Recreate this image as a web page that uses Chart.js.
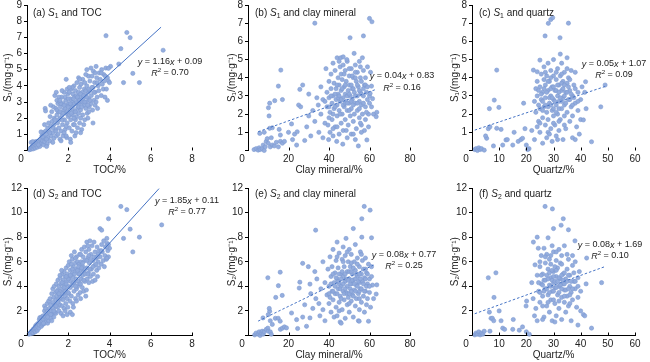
<!DOCTYPE html>
<html>
<head>
<meta charset="utf-8">
<script src="https://cdn.jsdelivr.net/npm/chart.js@4.4.1/dist/chart.umd.min.js"></script>
<style>
  body { margin: 0; background: #fff; }
  #figure { position: relative; width: 650px; height: 362px; overflow: hidden; }
  #figure canvas { position: absolute; }
</style>
</head>
<body>
<div id="figure"></div>
<script>
// Sample points, [x, y]
const s1TocPoints = [
  [0.12,0.05],[0.15,0.12],[0.2,0.08],[0.22,0.2],[0.25,0.15],[0.3,0.1],[0.3,0.3],[0.35,0.22],[0.38,0.4],[0.4,0.15],[0.42,0.55],[0.45,0.3],[0.5,0.45],[0.5,0.2],[0.55,0.6],[0.58,0.35],[0.6,0.5],[0.62,0.25],[0.2,0.5],[0.28,0.55],
  [0.65,0.7],[0.7,0.45],[0.72,0.9],[0.75,0.6],[0.78,1.1],[0.8,0.35],[0.82,0.8],[0.85,0.55],[0.88,2.6],[0.9,2.45],[0.9,1.2],[0.92,0.7],[0.95,1.0],[0.98,0.4],[1.0,1.4],[0.68,1.15],[0.85,1.6],[0.95,0.25],
  [1.02,0.8],[1.05,1.7],[1.08,1.2],[1.1,0.6],[1.12,2.1],[1.15,1.5],[1.18,0.9],[1.2,2.4],[1.22,1.8],[1.25,1.1],[1.28,2.7],[1.3,0.75],[1.3,1.6],[1.32,2.0],[1.35,3.4],[1.38,1.3],[1.4,2.6],[1.42,3.6],[1.42,0.9],[1.45,2.2],[1.48,1.7],[1.5,2.9],[1.5,1.0],[1.15,2.8],[1.25,0.5],[1.45,3.1],
  [1.52,2.4],[1.55,1.4],[1.58,3.0],[1.6,0.7],[1.6,2.0],[1.62,2.7],[1.65,1.2],[1.68,3.3],[1.7,2.2],[1.72,1.6],[1.75,2.9],[1.75,0.9],[1.78,2.5],[1.8,3.6],[1.82,1.9],[1.85,2.6],[1.85,1.3],[1.88,3.1],[1.9,4.4],[1.9,2.3],[1.92,0.8],[1.95,2.8],[1.95,1.7],[1.98,3.5],[2.0,2.1],[1.55,3.3],[1.7,3.7],[1.65,0.6],[1.8,1.1],[1.95,3.8],
  [2.02,2.9],[2.05,1.4],[2.05,3.6],[2.08,2.5],[2.1,0.7],[2.1,3.2],[2.12,1.9],[2.15,2.7],[2.15,3.8],[2.18,1.2],[2.2,3.0],[2.2,2.2],[2.22,3.5],[2.25,1.6],[2.25,2.8],[2.28,4.0],[2.3,2.4],[2.3,3.3],[2.32,0.9],[2.35,3.7],[2.35,1.9],[2.38,2.9],[2.4,3.4],[2.4,2.1],[2.42,4.2],[2.45,2.6],[2.45,1.4],[2.48,3.1],[2.5,4.5],[2.5,3.6],[2.5,2.3],[2.12,0.5],[2.2,3.9],[2.38,1.1],[2.28,2.0],
  [2.52,2.9],[2.55,3.9],[2.55,1.7],[2.58,3.3],[2.6,2.5],[2.62,4.1],[2.62,3.0],[2.65,1.3],[2.68,3.6],[2.7,2.2],[2.7,4.4],[2.72,3.2],[2.75,2.8],[2.78,3.8],[2.8,1.9],[2.8,4.2],[2.82,3.4],[2.85,2.6],[2.88,3.0],[2.9,5.0],[2.9,4.0],[2.92,2.3],[2.95,3.6],[2.98,4.6],[3.0,3.2],[2.6,1.1],[2.75,1.6],[2.85,4.7],[2.95,2.0],
  [3.02,2.7],[3.05,4.3],[3.05,3.7],[3.1,5.1],[3.1,2.9],[3.12,3.4],[3.15,4.6],[3.18,2.5],[3.2,3.9],[3.22,4.9],[3.25,3.1],[3.28,4.2],[3.3,2.8],[3.3,3.6],[3.35,5.2],[3.38,4.5],[3.4,3.3],[3.42,2.6],[3.45,4.0],[3.48,3.7],[3.5,4.8],[3.2,1.7],[3.35,3.0],
  [3.55,4.4],[3.6,3.4],[3.62,5.0],[3.65,4.1],[3.7,3.8],[3.72,4.7],[3.75,4.3],[3.78,3.3],[3.8,4.6],[3.82,5.1],[3.85,3.8],[3.9,4.5],[3.95,4.3],[4.0,4.2],[4.05,5.2],[3.9,3.1],
  [1.35,1.9],[1.45,2.5],[1.55,1.9],[1.6,2.4],[1.65,2.9],[1.7,1.9],[1.75,2.3],[1.8,2.8],[1.85,3.3],[1.9,1.5],[1.95,2.4],[2.0,2.7],[2.0,3.2],[2.05,2.2],[2.1,2.9],[2.15,2.3],[2.2,2.6],[2.25,3.2],[2.3,2.9],[2.35,2.4],
  [2.4,3.0],[2.45,3.3],[2.5,2.7],[2.55,3.1],[2.6,3.5],[2.65,2.7],[2.7,3.0],[2.75,3.4],[2.8,3.0],[2.85,3.7],[2.9,3.3],[2.95,2.8],[3.0,3.8],[3.05,3.1],[3.15,3.9],[3.25,3.6],[3.4,4.2],[1.25,1.4],[1.1,1.1],[0.95,0.7],
  [0.75,0.85],[0.55,0.35],[1.4,1.2],[2.6,2.0],[2.3,1.6],[3.0,2.4],[1.9,0.9],[3.6,4.8],[3.3,4.8],[2.55,4.4],[2.05,3.9],[1.6,3.1],
  [3.83,7.1],[4.84,7.3],[5.0,6.98],[4.55,6.3],[6.6,6.2],[4.45,5.35],[5.13,4.77],[4.68,4.2],[5.45,4.2],[3.95,5.08]
];

const s1ClayPoints = [
  [3,0.05],[4,0.1],[5,0.02],[5.5,0.15],[6,0.05],[7,0.1],[7.5,0.3],[8,0.0],[8.5,0.2],[9,0.5],[5.8,0.94],[10,0.4],[11,0.2],[11.5,0.7],[12,0.3],[13,0.25],[14,0.45],[15,0.2],[16,0.5],[17,0.4],[18,0.5],
  [10.1,2.35],[10.7,2.6],[10.4,1.9],[10.7,1.22],[12,1.25],[13.2,2.74],[15,3.54],[16.2,4.42],[17,2.8],[15.4,1.16],[16,0.85],[8,1.0],[9.5,0.65],[20,1.0],[21.5,1.46],[22,0.6],[23,0.9],[24.3,1.03],[24,0.3],
  [25,2.5],[25.6,3.36],[27,3.6],[26,2.4],[28,0.55],[29,1.3],[30,1.9],[30,3.1],[31,0.8],[32,2.2],[33,7.0],[33,1.6],[34,2.9],[34.7,2.5],[35,1.0],[36,3.5],[36,2.0],[37,0.7],[37,2.8],[38,1.5],
  [38.5,4.5],[39,3.2],[39,2.4],[39.5,1.4],[40,3.8],[40,2.9],[40.5,2.1],[40.5,1.0],[41,4.2],[41,3.4],[41.5,2.6],[41.5,1.7],[42,4.8],[42,3.0],[42,0.8],[38,2.7],[39.8,0.6],
  [42.5,2.3],[42.5,3.7],[43,1.3],[43,4.4],[43.5,2.8],[43.5,3.4],[44,1.9],[44,5.1],[44,2.5],[44.5,4.0],[44.5,3.1],[45,0.9],[45,2.2],[45,3.6],[45.5,4.6],[45.5,2.7],[46,1.5],[46,3.3],[46,4.2],[43.8,0.5],[45.8,5.1],
  [46.5,2.0],[46.5,3.9],[47,2.9],[47,5.15],[47,1.1],[47.5,3.5],[47.5,2.4],[48,4.4],[48,1.7],[48,3.1],[48.5,2.7],[48.5,3.8],[49,0.7],[49,2.2],[49,4.9],[49.5,3.3],[49.5,1.4],[50,2.6],[50,4.1],[50,3.6],[46.8,0.35],[48.8,5.0],
  [50.4,6.2],[50.5,1.9],[50.5,3.0],[51,4.5],[51,2.3],[51,0.9],[51.5,3.4],[51.5,2.8],[52,4.0],[52,1.6],[52.4,5.34],[52.5,3.2],[52.5,2.0],[53,4.7],[53,2.6],[53,0.6],[53.5,3.8],[53.5,1.2],[54,3.0],[54,4.3],[54.5,0.25],[54,2.2],
  [54.5,3.5],[55,1.8],[55,4.9],[55,2.7],[55.5,4.0],[55.5,3.2],[56,1.4],[56,2.5],[56,3.8],[56.5,5.1],[56.5,2.0],[57,6.3],[57,3.0],[57,4.4],[57.5,1.1],[57.5,3.6],[58,2.4],[58,4.0],[58,1.7],[58.7,0.58],
  [58.5,3.2],[59,2.8],[59,4.6],[59.5,2.0],[60,3.0],[60,7.26],[60.3,3.14],[61,3.54],[61.2,7.08],[61,2.4],[62,2.0],[63.6,2.1],[63.3,1.86],[60.5,4.3],[59.5,1.3],[61.5,2.85],
  [40,2.4],[41,3.0],[42,2.0],[43,3.1],[43,2.4],[44,3.6],[44.5,2.9],[45,3.0],[45.5,2.0],[46,2.8],[46.5,3.4],[47,2.5],[47.5,4.2],[48,2.6],[48,3.6],[49,3.0],[49,2.6],[50,3.1],[50,2.2],[51,3.6],
  [51,2.7],[51.5,4.1],[52,2.5],[52,3.4],[53,3.0],[53,4.0],[54,3.6],[54,2.6],[55,3.3],[55,2.3],[55.5,4.6],[56,3.1],[57,2.6],[57,3.4],[58,3.6],[58.5,2.1],[59,3.5],[60,2.6],[45,4.9],[47,4.7],
  [50,4.5],[53,4.3],[42,1.2],[48.5,1.1],[52,0.9],[56,1.0],[40,1.8],[44,1.3],[55.5,1.5]
];

const s1QuartzPoints = [
  [1,0.05],[1.5,0.1],[2,0.0],[2.5,0.15],[3,0.05],[3.5,0.1],[4.5,0.02],[5.4,0.67],[5,0.8],[6,1.2],[6.4,2.3],[6.6,1.3],[8.2,2.77],[9.1,4.42],[9.9,2.37],[9.1,1.22],[10.7,1.16],[7.9,0.25],[11.3,0.3],[12.5,0.58],
  [13,0.6],[15.5,1.0],[15,0.3],[17,0.5],[18,0.6],[18.6,0.67],[19.5,1.2],[19,2.6],[20,0.3],[21,0.1],[20.5,0.05],[22,1.1],[22.6,4.42],[24,4.33],[25,4.97],[23,0.6],[24,1.3],[23,2.7],
  [23.5,3.4],[23.5,2.1],[24,3.0],[24,3.8],[24.5,1.6],[24.5,2.5],[25,3.5],[25,1.0],[25.5,2.8],[25.5,4.2],[26,1.8],[26,3.2],[26,0.4],[26.5,2.4],[26.5,3.9],[26.5,4.6],[27,1.4],[27,2.9],[27,3.6],
  [27.5,0.7],[27.5,2.1],[27.5,4.1],[28,3.3],[28,1.7],[28,4.8],[28.5,2.6],[28.5,3.8],[29,1.2],[29,3.0],[29,4.4],[29.5,2.2],[29.5,3.5],[29.5,0.5],[30,1.9],[30,2.8],[30,4.1],[30,5.0],
  [30.5,3.3],[30.5,1.4],[31,2.5],[31,3.9],[31,0.8],[31.5,3.0],[31.5,4.5],[31.5,2.0],[32,1.1],[32,3.6],[32,2.7],[32.5,4.1],[32.5,5.3],[32.5,1.7],[33,2.3],[33,3.3],[33,4.8],
  [33.5,0.6],[33.5,2.9],[33.5,3.8],[34,1.9],[34,4.3],[34,2.5],[34.5,3.2],[34.5,1.2],[35,3.7],[35,2.1],[35,5.1],[35.5,2.8],[35.5,4.0],[36,1.6],[36,3.3],[36.5,2.4],[36.5,4.4],
  [37,0.7],[37,3.0],[37,1.9],[37.5,3.6],[38,2.6],[38,4.3],[38.5,1.3],[39,3.2],[39,2.2],[39.5,0.9],[40,2.8],[40.5,3.5],[40,1.7],[38,0.6],
  [24.5,3.3],[25,2.3],[25.5,3.1],[26,2.7],[26.5,3.4],[27,2.5],[27.5,3.2],[28,2.4],[28,3.8],[28.5,2.9],[29,3.4],[29,2.5],[29.5,2.9],[30,3.5],[30,2.3],[30.5,2.7],[31,3.3],[31,2.1],[31.5,3.6],[32,3.2],
  [32,2.3],[32.5,2.9],[33,3.7],[33,2.7],[33.5,3.4],[34,3.0],[34,3.6],[34.5,2.6],[35,3.2],[35.5,3.5],[36,2.8],[36.5,3.1],[37,2.5],[37.5,2.9],[30,1.5],[28,1.0],[32,1.6],[34,1.4],[26,2.2],[27,4.3],
  [29,4.0],[31,4.3],[33,4.2],[35,4.5],[36,3.9],[38,3.4],[39,2.7],[25,1.5],[28.5,0.9],[31.5,0.6],
  [26.9,6.3],[28.1,6.99],[29,7.2],[29.7,7.3],[35.5,7.0],[32.4,6.2],[47.4,2.4],[44,0.48],[49,3.6],[41,1.68],[41.8,3.78],[41.5,3.2],[42,2.3]
];

const s2TocPoints = [
  [0.1,0.1],[0.15,0.2],[0.2,0.15],[0.22,0.35],[0.25,0.25],[0.3,0.5],[0.3,0.2],[0.35,0.4],[0.38,0.65],[0.4,0.3],[0.42,0.8],[0.45,0.55],[0.48,0.9],[0.5,0.4],[0.52,0.7],[0.55,1.0],[0.58,0.6],[0.6,1.3],[0.6,0.85],[0.62,1.45],
  [0.65,1.1],[0.7,0.75],[0.7,1.5],[0.72,1.2],[0.75,0.9],[0.78,1.6],[0.8,1.3],[0.82,0.95],[0.85,2.0],[0.85,2.4],[0.88,1.5],[0.9,1.1],[0.9,2.2],[0.92,1.8],[0.95,1.4],[0.98,2.6],[1.0,1.0],[1.0,2.0],
  [1.02,1.6],[1.05,2.8],[1.05,1.2],[1.08,2.2],[1.1,1.8],[1.12,3.0],[1.15,1.4],[1.15,2.5],[1.18,2.0],[1.2,3.4],[1.22,1.7],[1.25,2.7],[1.25,3.8],[1.28,2.2],[1.3,1.5],[1.3,3.1],[1.32,4.0],[1.35,2.5],[1.38,3.5],[1.4,1.8],[1.4,2.9],[1.42,4.2],[1.45,3.2],[1.48,2.3],[1.5,3.7],[1.5,4.5],[1.2,1.2],[1.35,1.9],
  [1.52,2.8],[1.55,4.0],[1.55,2.0],[1.58,3.3],[1.6,4.7],[1.6,2.5],[1.62,3.6],[1.65,1.8],[1.65,4.2],[1.68,3.0],[1.7,5.0],[1.7,2.4],[1.72,3.8],[1.75,4.5],[1.75,2.9],[1.78,3.4],[1.8,5.2],[1.8,2.2],[1.82,4.1],[1.85,3.2],[1.85,4.8],[1.88,2.6],[1.9,5.5],[1.9,3.7],[1.92,4.4],[1.95,3.0],[1.95,5.0],[1.98,2.3],[2.0,4.0],[2.0,5.7],[1.6,4.9],[1.75,1.6],[1.85,2.0],[1.95,1.7],[1.68,5.3],
  [2.02,3.4],[2.05,4.7],[2.05,6.0],[2.08,2.8],[2.1,5.3],[2.1,3.9],[2.12,4.4],[2.15,6.5],[2.15,3.2],[2.18,5.0],[2.2,4.1],[2.2,6.2],[2.22,2.6],[2.25,4.7],[2.25,5.6],[2.28,3.6],[2.3,6.8],[2.3,4.3],[2.32,5.2],[2.35,3.0],[2.35,5.9],[2.38,4.6],[2.4,3.8],[2.4,6.4],[2.42,5.4],[2.45,4.0],[2.45,6.0],[2.48,3.3],[2.5,5.0],[2.5,4.4],[2.1,1.9],[2.25,2.3],[2.4,2.8],[2.2,1.7],
  [2.52,5.8],[2.55,4.2],[2.55,6.6],[2.58,3.5],[2.6,5.3],[2.62,6.0],[2.62,4.6],[2.65,7.0],[2.68,3.9],[2.7,5.6],[2.7,4.9],[2.72,6.4],[2.75,3.6],[2.75,5.2],[2.78,7.2],[2.8,4.4],[2.8,6.1],[2.82,5.0],[2.85,6.8],[2.88,3.7],[2.9,5.5],[2.9,7.6],[2.92,4.6],[2.95,6.3],[2.98,5.1],[3.0,7.0],[3.0,4.3],[2.6,3.0],[2.85,3.2],
  [3.02,5.9],[3.05,7.7],[3.08,4.8],[3.1,6.6],[3.12,5.4],[3.15,7.3],[3.18,4.4],[3.2,6.1],[3.22,5.0],[3.25,7.6],[3.28,5.7],[3.3,6.8],[3.3,4.5],[3.35,6.3],[3.38,5.3],[3.4,7.2],[3.42,4.8],[3.45,6.0],[3.48,5.5],[3.5,6.9],
  [3.55,6.4],[3.6,5.8],[3.62,7.4],[3.65,6.8],[3.7,6.1],[3.72,7.7],[3.78,6.5],[3.8,7.2],[3.85,6.2],[3.88,7.5],[3.92,6.9],[3.95,7.4],[4.0,7.1],[3.75,5.6],[3.95,6.4],
  [1.4,2.4],[1.5,2.7],[1.6,3.1],[1.7,3.4],[1.8,3.9],[1.9,4.2],[2.0,4.6],[2.0,3.5],[2.1,4.9],[2.2,5.4],[2.3,5.0],[2.35,4.0],[2.45,5.3],[2.5,5.6],[2.55,5.0],[2.6,4.2],[2.7,5.9],[2.75,4.5],[2.8,5.4],[2.9,6.1],
  [2.95,5.0],[3.05,5.4],[3.1,6.2],[3.2,5.6],[3.25,6.4],[3.35,5.8],[3.45,6.6],[1.3,2.0],[1.15,1.7],[1.0,1.5],[0.8,1.0],[1.7,4.3],[1.9,4.8],[2.15,5.8],[2.35,6.3],[2.6,6.6],[2.95,7.3],[1.45,3.6],[1.55,3.4],[1.85,3.6],
  [2.25,4.3],[2.65,5.5],[3.0,6.5],[3.6,6.9],[3.4,6.4],
  [3.95,9.5],[3.54,8.7],[3.62,8.57],[4.55,10.5],[4.84,10.24],[5.0,8.65],[4.68,7.9],[5.45,8.0],[6.53,9.0],[5.13,6.8],[3.87,7.9],[3.87,7.2],[3.87,6.3]
];

const s2ClayPoints = [
  [3.3,0.05],[4,0.2],[5,0.1],[5.5,0.3],[6,0.0],[6.5,0.2],[7,0.35],[7.5,0.1],[8,0.3],[7.4,1.43],[9,0.5],[9.8,0.6],[10,0.35],[11,0.3],[11.5,0.1],[9.8,4.7],[10.7,1.97],[10.5,2.2],[10,1.7],[11,1.2],[12,0.9],
  [13.7,3.1],[15,4.05],[15.9,5.15],[16.9,3.26],[13.5,1.4],[14.9,1.4],[15.9,1.16],[16,0.5],[17,0.6],[18,0.7],[19,0.62],[21.5,1.83],[24,1.29],[24.5,0.57],[25.6,4.34],[25.3,3.86],[27,5.87],[28.9,0.75],[29.8,5.6],
  [30.6,4.18],[30.6,1.43],[27,1.5],[28,2.5],[31,3.4],[32,2.2],[33.4,8.57],[33,5.2],[33.5,3.0],[34,4.6],[35,2.6],[35.5,1.6],[36,3.8],[37,6.0],[37,2.1],[38,4.3],[38,1.2],[39,3.3],
  [39.5,5.4],[40,2.6],[40,4.0],[40.5,6.4],[40.5,3.1],[41,4.8],[41,1.9],[41.5,3.6],[41.5,5.6],[42,7.0],[42,2.9],[42.5,4.3],[42.5,1.5],[43,5.1],[43,3.4],[43.5,6.1],[43.5,2.3],[44,4.6],[44,7.6],[44.5,3.8],[44.5,5.5],
  [45,2.7],[45,4.2],[45,6.7],[45.5,1.1],[45.5,3.2],[46,5.0],[46,4.0],[46.5,6.2],[46.5,2.1],[47,3.6],[47,4.8],[47,7.2],[47.5,5.6],[47.5,2.9],[48,4.4],[48,1.4],[48,6.5],[48.4,7.9],[48.5,3.5],[49,5.2],[49,4.0],[49,2.5],
  [49.5,6.0],[49.5,3.1],[50,4.6],[50,7.0],[50,1.9],[50.5,3.8],[50.5,5.6],[51,4.2],[51,2.8],[51,6.6],[51.5,3.3],[51.5,5.0],[52,8.7],[52,4.5],[52,1.5],[52.5,6.0],[52.5,3.7],[53,2.4],[53,5.3],[53,7.4],[53.5,4.1],[53.5,3.0],
  [54,4.8],[54,6.3],[54.5,1.2],[54.5,3.4],[55,5.6],[55,4.3],[55,2.1],[55.5,6.8],[55.5,3.8],[56,5.0],[56,2.7],[56.2,9.5],[56.2,8.0],[56.5,4.4],[56.5,6.1],[57,3.2],[57,5.4],[57.4,10.5],[57.5,1.9],[57.5,4.7],
  [58,6.3],[58,3.6],[58.5,2.5],[58.5,5.1],[59,4.2],[59,3.0],[59.5,1.16],[59.5,5.8],[60,4.6],[60,3.5],[60.3,10.2],[61,7.95],[61,5.6],[61.5,4.1],[62,3.0],[63.6,4.12],[63.3,3.37],[54.9,1.16],[46,1.0],[44,1.6],[60.5,2.3],
  [40,3.4],[41,4.2],[42,3.6],[42,5.0],[43,4.0],[43.5,4.7],[44,3.4],[44.5,4.4],[45,5.0],[45.5,3.8],[46,4.6],[46,3.0],[46.5,5.2],[47,4.2],[47.5,3.4],[48,5.0],[48,3.8],[48.5,4.6],[49,3.4],[49.5,4.5],
  [50,5.2],[50,3.4],[50.5,4.2],[51,5.2],[51,3.6],[51.5,4.5],[52,3.2],[52,5.5],[52.5,4.2],[53,4.6],[53,3.6],[53.5,5.0],[54,4.0],[54.5,4.4],[55,3.6],[55,5.0],[55.5,4.6],[56,3.8],[57,4.2],[57.5,3.6],
  [58,4.6],[58.5,4.0],[59,5.0],[60,4.0],[61,4.8],[44,6.4],[47,6.0],[49,6.8],[51,5.9],[54,5.8],[56,6.6],[58,5.4],[45,2.0],[50,2.6],[55,3.0]
];

const s2QuartzPoints = [
  [1,0.05],[1.5,0.2],[2,0.1],[2.5,0.3],[3,0.05],[3.5,0.2],[4,0.1],[4.5,0.35],[6.6,0.35],[6,4.7],[8.8,5.1],[8.1,3.1],[6.4,1.9],[10,2.0],[7,1.4],[7.5,1.4],[8,1.2],[10.7,1.2],[11.3,0.6],[12,0.5],
  [15.2,1.3],[15,0.5],[17.4,0.43],[18.6,0.7],[20.1,2.8],[19.9,2.4],[21.1,0.1],[20,0.3],[22.6,7.6],[24,8.0],[24.4,7.1],[23.2,5.75],[22,4.3],[22.5,3.0],[23,1.6],[23.5,2.2],[24,1.2],
  [24,4.9],[24.5,3.6],[25,5.6],[25,2.7],[25.5,4.2],[25.5,6.5],[26,3.2],[26,5.0],[26.5,1.5],[26.5,4.5],[26.5,7.1],[27,3.8],[27,5.9],[27.5,2.4],[27.5,4.9],[27.5,6.6],[28,3.3],[28,5.4],[28,7.95],
  [28.5,4.1],[28.5,1.9],[28.5,6.2],[29,2.9],[29,4.7],[29,5.8],[29.5,3.6],[29.5,7.3],[29.5,1.2],[30,4.3],[30,5.2],[30,6.8],[30,8.7],[30.5,2.6],[30.5,3.9],[31,4.8],[31,6.1],[31,1.6],
  [31.5,3.3],[31.5,5.5],[32,4.0],[32,7.0],[32,2.2],[32.5,4.6],[32.5,5.9],[33,3.1],[33,1.3],[33,6.5],[33.5,4.2],[33.5,5.0],[34,2.7],[34,3.7],[34,7.3],[34.5,4.6],[34.5,1.9],
  [35,5.4],[35,3.2],[35.5,6.2],[35.5,2.4],[36,4.0],[36,4.9],[36.5,3.5],[36.5,1.2],[37,5.7],[37,2.9],[37.5,4.4],[38,3.8],[38,6.0],[38.5,2.3],[39,4.7],[39,3.1],[39.5,5.2],[40,3.6],[40,2.0],[30.5,1.1],[26,1.3],
  [24.5,4.3],[25,3.5],[25.5,4.9],[26,4.1],[26.5,3.6],[27,4.5],[27.5,3.8],[28,4.6],[28.5,3.5],[28.5,5.1],[29,4.0],[29.5,4.5],[29.5,5.3],[30,3.6],[30,4.8],[30.5,4.4],[30.5,5.6],[31,3.9],[31,5.3],[31.5,4.4],
  [32,4.7],[32,3.5],[32.5,4.1],[33,4.9],[33,3.8],[33.5,4.5],[34,5.1],[34,4.2],[34.5,3.7],[35,4.4],[35.5,4.9],[35.5,3.8],[36,3.3],[36.5,4.4],[37,3.8],[37.5,5.1],[38,4.4],[39,4.0],[26,2.4],[28,2.7],
  [30,2.9],[32,2.8],[34,3.2],[36,2.6],[27,6.4],[29,6.5],[31,6.8],[33,5.8],[35,6.6],[37,6.5],[25,6.0],
  [26.9,10.5],[29.6,10.3],[33.6,9.5],[32.8,8.97],[35.5,8.6],[37.9,7.7],[42.2,6.3],[42,4.2],[47.7,4.3],[44,0.6],[41,1.7],[39,0.85],[41.5,1.6]
];

// Linear fits printed in each panel
const fitSlopes = [1.16, 0.04, 0.05, 1.85, 0.08, 0.08];
const fitIntercepts = [0.09, 0.83, 1.07, 0.11, 0.77, 1.69];
const fitRanges = [[0.1, 6.5], [5, 63], [1, 49], [0.05, 6.4], [5, 62], [1, 49]];
const fitLabels = ['y = 1.16x + 0.09', 'y = 0.04x + 0.83', 'y = 0.05x + 1.07', 'y = 1.85x + 0.11', 'y = 0.08x + 0.77', 'y = 0.08x + 1.69'];
const r2Values = ['0.70', '0.16', '0.09', '0.77', '0.25', '0.10'];

// Panel titles and axes
const panelLetters = ['a', 'b', 'c', 'd', 'e', 'f'];
const panelSubscripts = ['1', '1', '1', '2', '2', '2'];
const panelSubjects = ['TOC', 'clay mineral', 'quartz', 'TOC', 'clay mineral', 'quartz'];
const xTitles = ['TOC/%', 'Clay mineral/%', 'Quartz/%'];
const yTitles = ['S\u2081/(mg\u00b7g\u207b\u00b9)', 'S\u2082/(mg\u00b7g\u207b\u00b9)'];
const xMax = [8, 80, 60];
const xStep = [2, 20, 10];
const yMax = [9, 8, 8, 12, 12, 12];
const yStep = [1, 1, 1, 2, 2, 2];

const FONT = '"Liberation Sans", Arial, sans-serif';

// draw a run of text pieces (italic / sub / sup) on one baseline
function drawRich(ctx, parts, x, y, align, size) {
    const fontFor = p => `${p.i ? 'italic ' : ''}${p.sub || p.sup ? size * 0.68 : size}px ${FONT}`;
    let total = 0;
    parts.forEach(p => { ctx.font = fontFor(p); total += ctx.measureText(p.t).width; });
    let cx = align === 'center' ? x - total / 2 : x;
    ctx.textAlign = 'left';
    ctx.textBaseline = 'middle';
    parts.forEach(p => {
        ctx.font = fontFor(p);
        const dy = p.sub ? size * 0.3 : (p.sup ? -size * 0.3 : 0);
        ctx.fillText(p.t, cx, y + dy);
        cx += ctx.measureText(p.t).width;
    });
}

function equationParts(text) {
    return text.split(/([xy])/).filter(s => s).map(s => ({ t: s, i: s === 'x' || s === 'y' }));
}

const panelDecor = {
    id: 'panelDecor',
    afterDraw(chart, args, opts) {
        const ctx = chart.ctx;
        const area = chart.chartArea;
        const xs = chart.scales.x;
        ctx.save();
        // inward tick marks on the x axis
        ctx.strokeStyle = '#000';
        ctx.lineWidth = 1;
        xs.ticks.forEach(t => {
            const px = Math.round(xs.getPixelForValue(t.value)) + 0.5;
            ctx.beginPath();
            ctx.moveTo(px, area.bottom);
            ctx.lineTo(px, area.bottom - 3);
            ctx.stroke();
        });
        // one shared "0" at the corner
        ctx.fillStyle = '#222';
        ctx.font = `10px ${FONT}`;
        ctx.textAlign = 'center';
        ctx.textBaseline = 'middle';
        ctx.fillText('0', area.left - 6, area.bottom + 8.5);
        // title, fit equation and R2
        drawRich(ctx, opts.title, opts.titleX, opts.titleY, 'left', 10);
        drawRich(ctx, opts.equation, opts.eqX, opts.eqY, 'center', 9);
        drawRich(ctx, opts.r2, opts.eqX, opts.r2Y, 'center', 9);
        ctx.restore();
    }
};

const Figure = {
    charts: [],
    // placement of each canvas on the page
    colLeft: [0, 221, 445],
    colWidth: [225, 225, 205],
    padRight: [33, 36, 15],
    yTitlePad: [2.5, 5, 4],
    rowTop: [0, 180],
    rowHeight: [180, 182],
    padTop: [5, 8],
    xAxisHeight: [29.5, 26.5],
    xTitlePad: [4, 1],
    titleXY: [[33, 13], [255, 13], [479, 13], [33, 194], [255, 194], [479, 194]],
    eqXY: [[170, 62, 73], [402, 76, 88], [614, 64, 75], [187, 201, 212], [404, 255, 266], [610, 245, 256]],

    init() {
        const points = [s1TocPoints, s1ClayPoints, s1QuartzPoints, s2TocPoints, s2ClayPoints, s2QuartzPoints];
        Chart.defaults.font.family = FONT;
        Chart.defaults.font.size = 10;
        Chart.defaults.color = '#222';
        points.forEach((pts, i) => this.makePanel(i, pts));
    },

    makePanel(i, pts) {
        const col = i % 3, row = Math.floor(i / 3);
        const left = this.colLeft[col], top = this.rowTop[row];
        const canvas = document.createElement('canvas');
        canvas.width = this.colWidth[col];
        canvas.height = this.rowHeight[row];
        canvas.style.left = left + 'px';
        canvas.style.top = top + 'px';
        document.getElementById('figure').appendChild(canvas);

        const [x0, x1] = fitRanges[i];
        const fitLine = [x0, x1].map(x => ({ x: x, y: fitSlopes[i] * x + fitIntercepts[i] }));
        const dashed = col > 0;
        const hideZero = v => (v === 0 ? '' : v);

        this.charts.push(new Chart(canvas.getContext('2d'), {
            type: 'scatter',
            data: {
                datasets: [{
                    type: 'line',
                    data: fitLine,
                    borderColor: '#4472C4',
                    borderWidth: 1,
                    borderDash: dashed ? [2.5, 2] : [],
                    pointRadius: 0,
                    clip: false
                }, {
                    data: pts.map(p => ({ x: p[0], y: p[1] })),
                    backgroundColor: 'rgba(143,170,220,0.95)',
                    borderColor: '#7E9BD2',
                    borderWidth: 0.6,
                    pointRadius: 2.1,
                    clip: false
                }]
            },
            options: {
                responsive: false,
                animation: false,
                layout: { padding: { left: 0, top: this.padTop[row], right: this.padRight[col], bottom: 0 } },
                plugins: {
                    legend: { display: false },
                    tooltip: { enabled: false },
                    panelDecor: {
                        title: [{ t: `(${panelLetters[i]}) ` }, { t: 'S', i: true }, { t: panelSubscripts[i], sub: true }, { t: ' and ' + panelSubjects[i] }],
                        titleX: this.titleXY[i][0] - left,
                        titleY: this.titleXY[i][1] - top,
                        equation: equationParts(fitLabels[i]),
                        r2: [{ t: 'R', i: true }, { t: '2', sup: true }, { t: ' = ' + r2Values[i] }],
                        eqX: this.eqXY[i][0] - left,
                        eqY: this.eqXY[i][1] - top,
                        r2Y: this.eqXY[i][2] - top
                    }
                },
                scales: {
                    x: {
                        type: 'linear',
                        min: 0,
                        max: xMax[col],
                        ticks: { stepSize: xStep[col], padding: 3, maxRotation: 0, callback: hideZero },
                        grid: { display: false, drawTicks: false },
                        border: { display: row === 1, color: '#000', width: 1 },
                        title: { display: true, text: xTitles[col], padding: { top: 0, bottom: this.xTitlePad[row] } },
                        afterFit: s => { s.height = this.xAxisHeight[row]; s.paddingLeft = 0; s.paddingRight = 0; }
                    },
                    y: {
                        min: 0,
                        max: yMax[i],
                        ticks: { stepSize: yStep[i], padding: 2, callback: hideZero },
                        grid: { display: true, drawOnChartArea: false, drawTicks: true, tickLength: 3, color: '#000' },
                        border: { display: true, color: '#000', width: 1 },
                        title: { display: true, text: yTitles[row], padding: { top: this.yTitlePad[col], bottom: 0 } },
                        afterFit: s => { s.width = 27; s.paddingTop = 0; s.paddingBottom = 0; }
                    }
                }
            },
            plugins: [panelDecor]
        }));
    }
};

document.addEventListener('DOMContentLoaded', () => Figure.init());
</script>
</body>
</html>
